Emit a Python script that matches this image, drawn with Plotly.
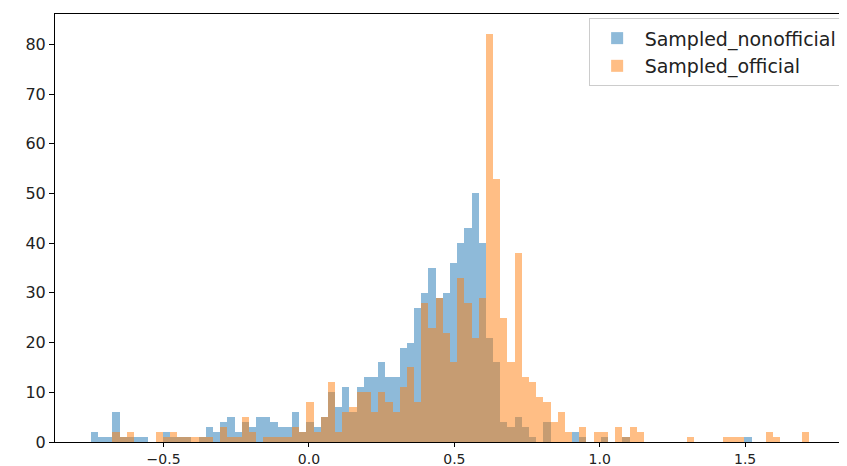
import numpy as np
import plotly.graph_objects as go

# shared histogram bins (100 bins)
bin_start = -0.75
bin_end = 1.72
n_bins = 100

# counts per bin
sampled_nonofficial = [
    2, 1, 1, 6, 1, 1, 1, 1, 0, 0,
    2, 1, 1, 1, 0, 1, 3, 2, 4, 5,
    2, 4, 3, 5, 5, 4, 3, 3, 6, 2,
    4, 3, 5, 10, 7, 11, 6, 11, 13, 13,
    16, 13, 13, 19, 20, 27, 30, 35, 29, 30,
    36, 40, 43, 50, 40, 21, 16, 4, 3, 5,
    3, 1, 0, 4, 0, 0, 0, 2, 1, 0,
    0, 1, 0, 0, 1, 0, 0, 0, 0, 0,
    0, 0, 0, 0, 0, 0, 0, 0, 0, 0,
    0, 1, 0, 0, 0, 0, 0, 0, 0, 0,
]
sampled_official = [
    0, 0, 0, 2, 1, 2, 0, 0, 0, 2,
    1, 2, 1, 1, 1, 1, 1, 0, 3, 1,
    1, 5, 2, 0, 1, 1, 1, 1, 3, 2,
    8, 2, 5, 12, 2, 6, 7, 10, 10, 6,
    10, 8, 6, 11, 15, 8, 28, 23, 29, 22,
    16, 33, 28, 21, 29, 82, 53, 25, 16, 38,
    13, 12, 9, 8, 4, 6, 2, 0, 3, 0,
    2, 2, 0, 3, 1, 3, 2, 0, 0, 0,
    0, 0, 0, 1, 0, 0, 0, 0, 1, 1,
    1, 0, 0, 0, 2, 1, 0, 0, 0, 2,
]
series_names = ["Sampled_nonofficial", "Sampled_official"]
x_tick_vals = [-0.5, 0.0, 0.5, 1.0, 1.5]
x_tick_text = ["\u22120.5", "0.0", "0.5", "1.0", "1.5"]
y_tick_vals = [0, 10, 20, 30, 40, 50, 60, 70, 80]

edges = np.linspace(bin_start, bin_end, n_bins + 1)
centers = (edges[:-1] + edges[1:]) / 2
width = edges[1] - edges[0]

fig = go.Figure()
fig.add_trace(go.Bar(x=centers, y=sampled_nonofficial, width=width,
                     name=series_names[0], marker=dict(color="#1f77b4", line=dict(width=0)),
                     opacity=0.5))
fig.add_trace(go.Bar(x=centers, y=sampled_official, width=width,
                     name=series_names[1], marker=dict(color="#ff7f0e", line=dict(width=0)),
                     opacity=0.5))

span = bin_end - bin_start
ymax = max(max(sampled_nonofficial), max(sampled_official))
xfont = dict(family="DejaVu Sans", size=14, color="#222222")
# page body has an 8px margin, so the figure is sized to fit the 847x466 window
fig.update_layout(
    width=839, height=458,
    barmode="overlay", bargap=0,
    paper_bgcolor="white", plot_bgcolor="white",
    margin=dict(l=47, r=2, t=6, b=24, autoexpand=False),
    font=xfont,
    showlegend=True,
    legend=dict(x=0.997, y=0.99, xanchor="right", yanchor="top",
                bgcolor="rgba(255,255,255,0.8)", bordercolor="#cccccc", borderwidth=1,
                font=dict(family="DejaVu Sans", size=19, color="#222222"),
                itemwidth=45, tracegroupgap=0),
)
fig.update_xaxes(range=[bin_start - 0.05 * span, bin_end + 0.05 * span],
                 tickvals=x_tick_vals, ticktext=x_tick_text,
                 ticks="outside", ticklen=4, tickcolor="black", tickwidth=1,
                 showline=True, linecolor="black", linewidth=1, mirror=True,
                 showgrid=False, zeroline=False, tickfont=xfont, automargin=False)
fig.update_yaxes(range=[0, ymax * 1.05], tickvals=y_tick_vals,
                 ticks="outside", ticklen=5, tickcolor="black", tickwidth=1,
                 showline=True, linecolor="black", linewidth=1, mirror=True,
                 showgrid=False, zeroline=False,
                 tickfont=dict(family="DejaVu Sans", size=16, color="#222222"),
                 automargin=False)

fig.write_html("out.html")
